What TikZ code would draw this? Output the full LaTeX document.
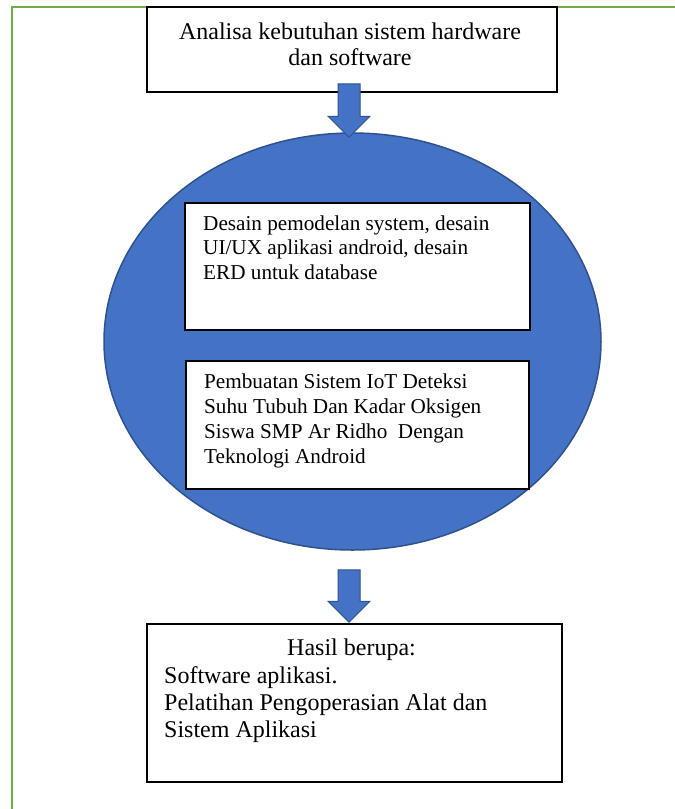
\documentclass[tikz,border=0pt]{standalone}
\usepackage{fontspec}
\setmainfont{Liberation Serif}
\usetikzlibrary{calc,shapes.geometric}
\definecolor{frameGreen}{HTML}{70AD47}
\definecolor{blockBlue}{HTML}{4472C4}
\definecolor{blockEdge}{HTML}{2F528F}
\begin{document}
\begin{tikzpicture}[x=1pt,y=-1pt,
  box/.style={draw=black, line width=1.5pt, fill=white, rectangle, inner sep=0pt},
  innerbox/.style={draw=black, line width=2pt, fill=white, rectangle, inner sep=0pt},
  txt/.style={inner sep=0pt, anchor=base west, align=left},
  blockarrow/.style={fill=blockBlue, draw=blockEdge, line width=1pt, line join=miter}]
\useasboundingbox (0,0) rectangle (675,809);
% green frame
\coordinate (fbl) at (12,809);
\coordinate (fr) at (675,7);
\draw[frameGreen, line width=2.6pt] (fbl) |- (fr);
% top box
\node[box, minimum width=410pt, minimum height=85pt] (analisa) at (352,49.5) {};
\node[inner sep=0pt, anchor=base, align=center, font=\fontsize{24}{26}\selectfont] (tanalisa) at (350,65) {Analisa kebutuhan sistem hardware\\dan software};
% ellipse
\node[ellipse, fill=blockBlue, draw=blockEdge, line width=1.5pt, minimum width=497pt, minimum height=417pt, inner sep=0pt] (oval) at (352.5,341.5) {};
% inner boxes
\node[innerbox, minimum width=345pt, minimum height=127pt] (desain) at (357.5,266.5) {};
\node[txt, font=\fontsize{21.2}{24.5}\selectfont] (tdesain) at (203,279) {Desain pemodelan system, desain\\UI/UX aplikasi android, desain\\ERD untuk database};
\node[innerbox, minimum width=343pt, minimum height=128pt] (buat) at (357.5,425) {};
\node[txt, font=\fontsize{21.2}{25}\selectfont] (tbuat) at (204,463) {Pembuatan Sistem IoT Deteksi\\Suhu Tubuh Dan Kadar Oksigen\\Siswa SMP Ar Ridho\ \ Dengan\\Teknologi Android};
% final box
\node[box, minimum width=415pt, minimum height=158pt] (hasil) at (354.5,703) {};
\node[inner sep=0pt, anchor=base, font=\fontsize{24}{27}\selectfont] (thasil) at (351.5,655) {Hasil berupa:};
\node[txt, font=\fontsize{24}{27}\selectfont] (tlist) at (164,737) {Software aplikasi.\\Pelatihan Pengoperasian Alat dan\\Sistem Aplikasi};
% arrows
\coordinate (s1) at ($(analisa.south)+(-3,-9)$);
\coordinate (t1) at ($(oval.north)+(-3.5,5)$);
\draw[blockarrow] ($(s1)+(-11,0)$) -- ($(t1)+(-11,-21)$) -- ($(t1)+(-21,-21)$) -- (t1) -- ($(t1)+(21,-21)$) -- ($(t1)+(11,-21)$) -- ($(s1)+(11,0)$) -- cycle;
\coordinate (s2) at ($(oval.south)+(-3.5,19)$);
\coordinate (t2) at ($(hasil.north)+(-5.5,-1)$);
\draw[blockarrow] ($(s2)+(-11,0)$) -- ($(t2)+(-11,-21)$) -- ($(t2)+(-21,-21)$) -- (t2) -- ($(t2)+(21,-21)$) -- ($(t2)+(11,-21)$) -- ($(s2)+(11,0)$) -- cycle;
\end{tikzpicture}
\end{document}
